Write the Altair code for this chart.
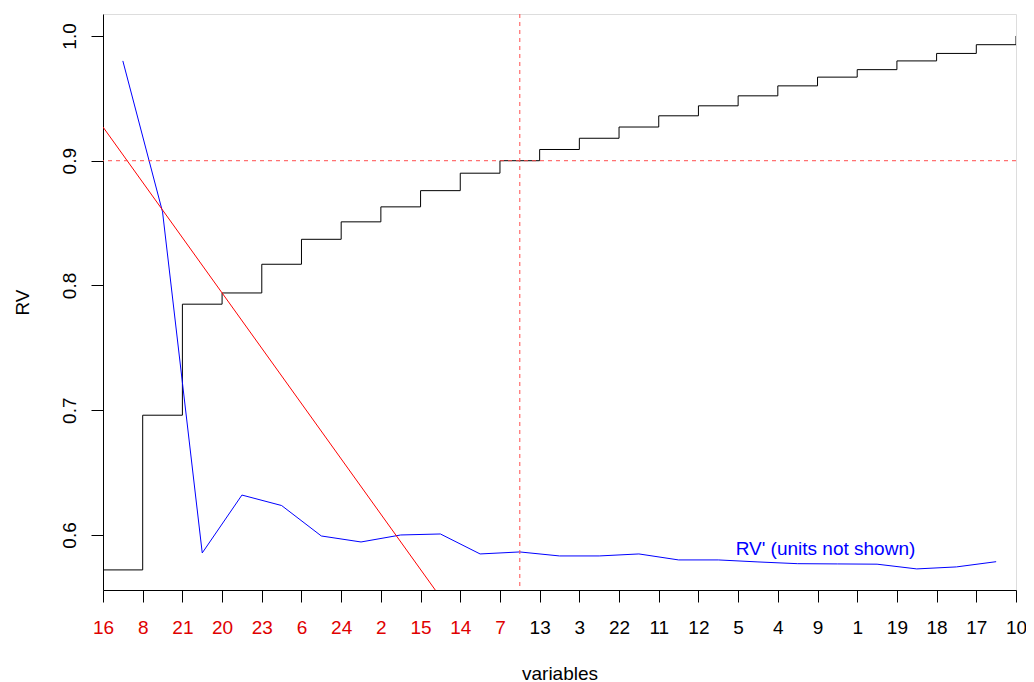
import altair as alt
import pandas as pd

FONT = "Liberation Sans"
FS = 19

labels = ["16", "8", "21", "20", "23", "6", "24", "2", "15", "14", "7", "13",
          "3", "22", "11", "12", "5", "4", "9", "1", "19", "18", "17", "10"]
n_selected = 11  # first 11 labels in red

rv = [0.572, 0.696, 0.785, 0.794, 0.817, 0.837, 0.851, 0.863, 0.876, 0.890,
      0.900, 0.909, 0.918, 0.927, 0.936, 0.944, 0.952, 0.960, 0.967, 0.973,
      0.980, 0.986, 0.993, 1.000]

rv_prime = [0.980, 0.859, 0.5856, 0.632, 0.6236, 0.5992, 0.5944, 0.600, 0.6008,
            0.5848, 0.5864, 0.5832, 0.5832, 0.5848, 0.580, 0.580, 0.5784, 0.577,
            0.5768, 0.5766, 0.5728, 0.5744, 0.5786]

red_line_x = [0, 9]
red_line_y = [0.927, 0.528]

threshold_rv = 0.9
cut_position = 10.5

note_text = "RV' (units not shown)"
note_x = 18.2
note_y = 0.584

y_min, y_max = 0.5559, 1.0176

W, H = 913, 576

step_df = pd.DataFrame({"x": list(range(len(rv))), "y": rv})
prime_df = pd.DataFrame({"x": [i + 0.5 for i in range(len(rv_prime))], "y": rv_prime})
red_df = pd.DataFrame({"x": red_line_x, "y": red_line_y})
hline_df = pd.DataFrame({"y": [threshold_rv]})
vline_df = pd.DataFrame({"x": [cut_position]})
note_df = pd.DataFrame({"x": [note_x], "y": [note_y], "t": [note_text]})

label_array = "[" + ",".join("'" + l + "'" for l in labels) + "]"

x_scale = alt.Scale(domain=[0, len(labels) - 1], nice=False, zero=False)
y_scale = alt.Scale(domain=[y_min, y_max], nice=False, zero=False)

x_axis = alt.Axis(
    values=list(range(len(labels))),
    labelExpr=label_array + "[datum.value]",
    labelColor={"condition": {"test": f"datum.value < {n_selected}", "value": "#e00000"},
                "value": "black"},
    labelFlush=False, labelOverlap=False, labelBound=False,
    labelFont=FONT, labelFontSize=FS, labelBaseline="alphabetic",
    labelPadding=31, tickSize=12, tickColor="black", domainColor="black",
    grid=False, title="variables", titleFont=FONT, titleFontSize=FS,
    titleFontWeight="normal", titleColor="black", titleBaseline="alphabetic",
    titleY=89, titleX=W / 2, titleAlign="center",
)
y_axis = alt.Axis(
    values=[0.6, 0.7, 0.8, 0.9, 1.0], format=".1f",
    labelAngle=270, labelAlign="center", labelBaseline="alphabetic",
    labelFont=FONT, labelFontSize=FS, labelColor="black",
    labelPadding=16, tickSize=12, tickColor="black", domainColor="black",
    labelFlush=False, labelOverlap=False, labelBound=False,
    grid=False, title="RV", titleFont=FONT, titleFontSize=FS,
    titleFontWeight="normal", titleColor="black", titleAngle=270,
    titleAlign="center", titleBaseline="alphabetic", titleX=-75, titleY=288,
)

X = alt.X("x:Q", scale=x_scale, axis=x_axis)
Y = alt.Y("y:Q", scale=y_scale, axis=y_axis)

step = alt.Chart(step_df).mark_line(interpolate="step-after", color="black",
                                    strokeWidth=1, clip=True).encode(x=X, y=Y)
prime = alt.Chart(prime_df).mark_line(color="#0000ff", strokeWidth=1,
                                      clip=True).encode(x=X, y=Y)
red = alt.Chart(red_df).mark_line(color="#ff0000", strokeWidth=1,
                                  clip=True).encode(x=X, y=Y)
hline = alt.Chart(hline_df).mark_rule(color="#ff4d4d", strokeDash=[4, 4],
                                      strokeWidth=1).encode(y=Y)
vline = alt.Chart(vline_df).mark_rule(color="#ff4d4d", strokeDash=[4, 4],
                                      strokeWidth=1).encode(x=X)
note = alt.Chart(note_df).mark_text(color="#0000ff", font=FONT, fontSize=FS,
                                    align="center", baseline="alphabetic").encode(
    x=X, y=Y, text="t:N")

chart = alt.layer(step, prime, red, hline, vline, note).properties(
    width=W, height=H,
    autosize=alt.AutoSizeParams(type="none"),
    padding={"left": 95, "top": 6, "right": 10, "bottom": 92},
).configure_view(stroke="black", strokeWidth=1).configure(background="white")

chart.save("out.html", embed_options={"renderer": "svg", "actions": False})
